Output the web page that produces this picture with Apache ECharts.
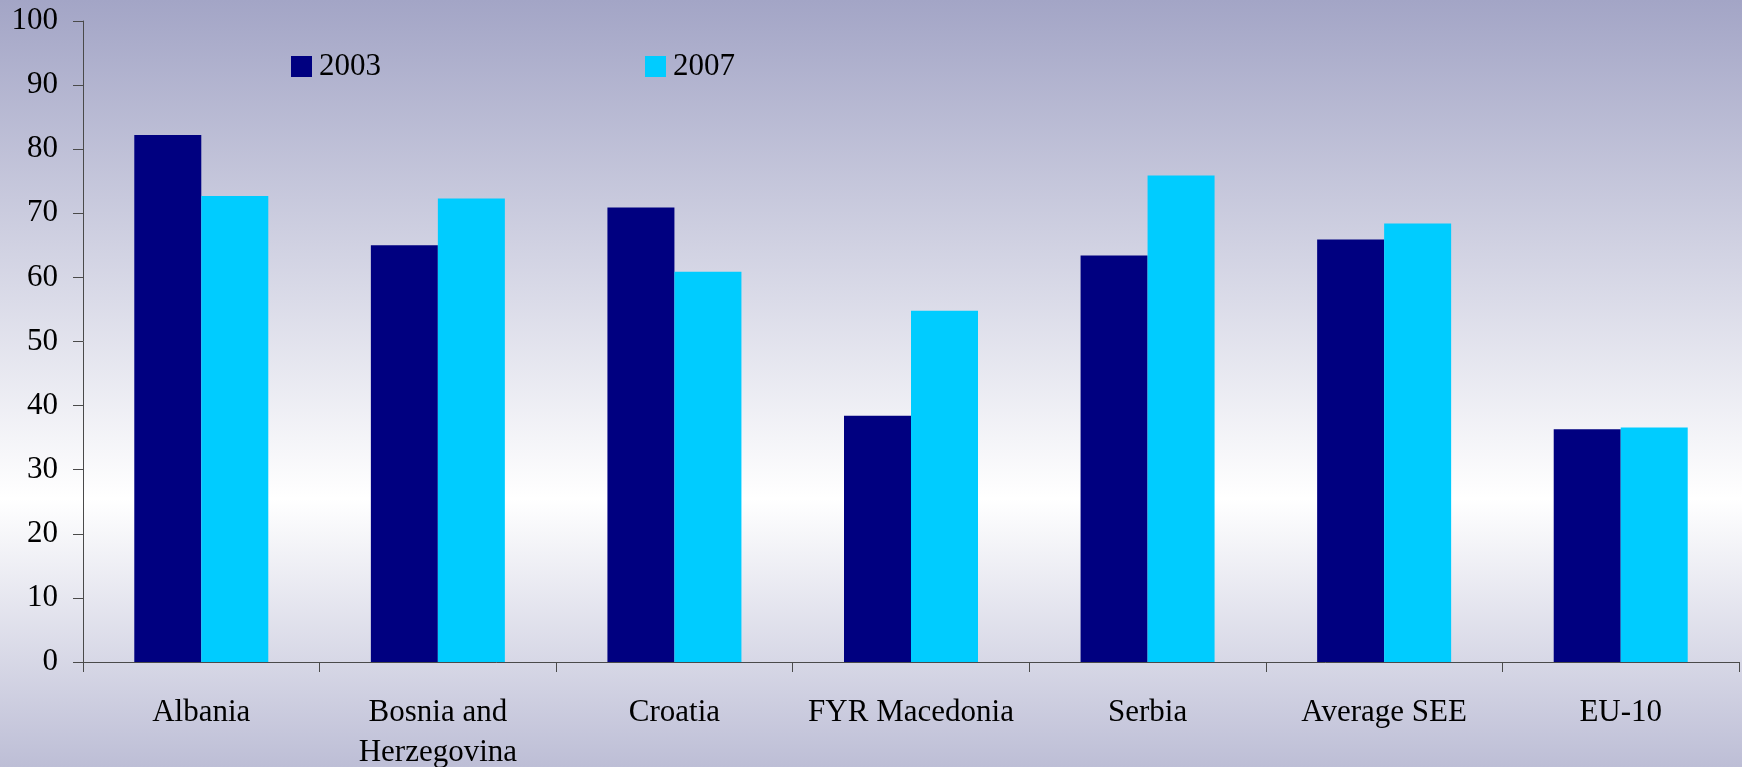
<!DOCTYPE html>
<html>
<head>
<meta charset="utf-8">
<script src="https://cdn.jsdelivr.net/npm/echarts@6/dist/echarts.min.js"></script>
<style>
html,body{margin:0;padding:0;}
#main{width:1742px;height:767px;}
</style>
</head>
<body>
<div id="main"></div>
<script>
var categories = ['Albania', 'Bosnia and\nHerzegovina', 'Croatia', 'FYR Macedonia', 'Serbia', 'Average SEE', 'EU-10'];
var years = ['2003', '2007'];
var values2003 = [82.2, 65.0, 70.9, 38.4, 63.4, 65.9, 36.3];
var values2007 = [72.7, 72.3, 60.9, 54.8, 75.9, 68.4, 36.6];

var font = 'Liberation Serif';
var axisColor = '#4a4a4a';

var myChart = echarts.init(document.getElementById('main'));
var option = {
	backgroundColor : new echarts.graphic.LinearGradient(0, 0, 0, 1, [
		{ offset : 0, color : '#a3a5c6' },
		{ offset : 0.65, color : '#ffffff' },
		{ offset : 1, color : '#bdbed6' }
	]),
	textStyle : {
		fontFamily : font
	},
	legend : {
		left : 291,
		top : 51,
		padding : 0,
		itemWidth : 21,
		itemHeight : 21,
		itemGap : 264,
		icon : 'rect',
		data : years,
		textStyle : {
			fontFamily : font,
			fontSize : 31,
			color : '#000',
			padding : [0, 0, 0, 2]
		}
	},
	grid : {
		left : 83,
		right : 3,
		top : 21,
		bottom : 105,
		containLabel : false,
		outerBoundsMode : 'none'
	},
	xAxis : {
		type : 'category',
		data : categories,
		axisLine : { lineStyle : { color : axisColor, width : 1 } },
		axisTick : { show : true, length : 10, lineStyle : { color : axisColor } },
		axisLabel : {
			interval : 0,
			margin : 31,
			fontFamily : font,
			fontSize : 31,
			lineHeight : 40,
			color : '#000'
		}
	},
	yAxis : {
		type : 'value',
		min : 0,
		max : 100,
		interval : 10,
		splitLine : { show : false },
		axisLine : { show : true, lineStyle : { color : axisColor, width : 1 } },
		axisTick : { show : true, length : 10, lineStyle : { color : axisColor } },
		axisLabel : {
			margin : 25,
			fontFamily : font,
			fontSize : 31,
			color : '#000'
		}
	},
	series : [ {
		name : years[0],
		type : 'bar',
		barWidth : 67,
		barGap : '0%',
		itemStyle : { color : '#000080' },
		data : values2003
	}, {
		name : years[1],
		type : 'bar',
		barWidth : 67,
		barGap : '0%',
		itemStyle : { color : '#00ccff' },
		data : values2007
	} ]
};
myChart.setOption(option);
</script>
</body>
</html>
